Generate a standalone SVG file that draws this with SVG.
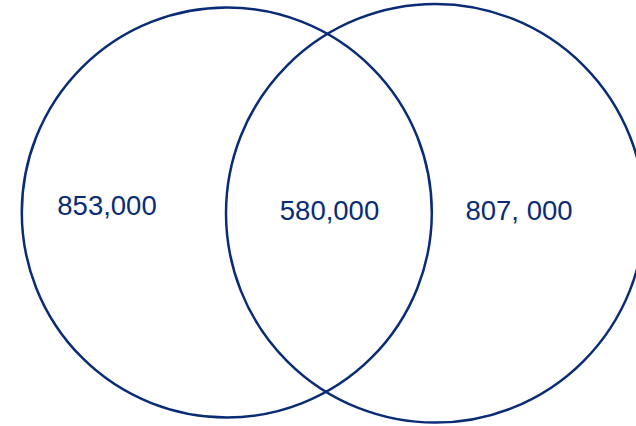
<svg xmlns="http://www.w3.org/2000/svg" width="636" height="426" viewBox="0 0 636 426">
<style>
.c{fill:none;stroke:#0a2c76;stroke-width:2.5}
.t{font-family:"Liberation Sans","DejaVu Sans",sans-serif;font-size:27.5px;fill:#0a2c76;text-anchor:middle}
</style>
<rect width="636" height="426" fill="#ffffff"/>
<g id="left-set"><circle class="c" cx="226.8" cy="212.5" r="205"/></g>
<g id="right-set"><circle class="c" cx="435.3" cy="213.3" r="209.3"/></g>
<g id="label-left"><text class="t" x="107" y="215">853,000</text></g>
<g id="label-both"><text class="t" x="329.5" y="220">580,000</text></g>
<g id="label-right"><text class="t" x="519" y="220">807, 000</text></g>
</svg>
